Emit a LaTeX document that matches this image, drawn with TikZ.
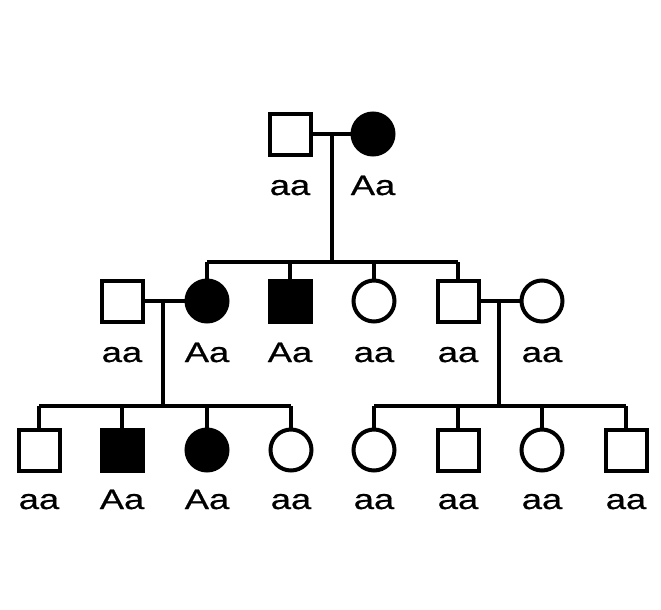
\documentclass[tikz,border=0pt]{standalone}
\usepackage{fontspec}
\setmainfont{Liberation Sans}
\newfontfamily\genofont[FakeStretch = 1.3, FakeBold = 0.6]{Liberation Sans}
\usetikzlibrary{positioning}
\tikzset{male/.style = {draw, rectangle, line width = 4, minimum size = 41, inner sep = 0},
  female/.style = {draw, circle, line width = 4, minimum size = 41, inner sep = 0},
  aff/.style = {fill},
  geno/.style = {font = \genofont\fontsize{28}{28}\selectfont, inner sep = 0, anchor = base},
  line/.style = {line width = 4}}

\begin{document}
\begin{tikzpicture}[x = 1pt, y = -1pt]
      \useasboundingbox (0, 0) rectangle (661, 610);

      % generation I
      \node[male] (I1) at (290, 134) {};
      \node[female, aff] (I2) at (373, 134) {};
      \coordinate (cI) at (332, 134);
      \coordinate (sI) at (332, 262);

      % generation II
      \node[male] (II0) at (122, 301) {};
      \node[female, aff] (II1) at (207, 301) {};
      \node[male, aff] (II2) at (290, 301) {};
      \node[female] (II3) at (374, 301) {};
      \node[male] (II4) at (458, 301) {};
      \node[female] (II5) at (542, 301) {};
      \coordinate (cII1) at (163, 301);
      \coordinate (sII1) at (163, 406);
      \coordinate (cII2) at (499, 301);
      \coordinate (sII2) at (499, 406);

      % generation III
      \node[male] (III1) at (39, 450) {};
      \node[male, aff] (III2) at (122, 450) {};
      \node[female, aff] (III3) at (207, 450) {};
      \node[female] (III4) at (291, 450) {};
      \node[female] (III5) at (374, 450) {};
      \node[male] (III6) at (458, 450) {};
      \node[female] (III7) at (542, 450) {};
      \node[male] (III8) at (626, 450) {};

      % genotypes
      \node[geno] (gI1) at (290, 195) {aa};
      \node[geno] (gI2) at (373, 195) {Aa};
      \node[geno] (gII0) at (122, 362) {aa};
      \node[geno] (gII1) at (207, 362) {Aa};
      \node[geno] (gII2) at (290, 362) {Aa};
      \node[geno] (gII3) at (374, 362) {aa};
      \node[geno] (gII4) at (458, 362) {aa};
      \node[geno] (gII5) at (542, 362) {aa};
      \node[geno] (gIII1) at (39, 509) {aa};
      \node[geno] (gIII2) at (122, 509) {Aa};
      \node[geno] (gIII3) at (207, 509) {Aa};
      \node[geno] (gIII4) at (291, 509) {aa};
      \node[geno] (gIII5) at (374, 509) {aa};
      \node[geno] (gIII6) at (458, 509) {aa};
      \node[geno] (gIII7) at (542, 509) {aa};
      \node[geno] (gIII8) at (626, 509) {aa};

      % lines
      \draw[line] (I1) -- (I2);
      \draw[line] (cI) -- (sI);
      \draw[line] (II1 |- sI) -- (II4 |- sI);
      \foreach \k in {II1, II2, II3, II4}
        \draw[line] (\k |- sI) -- (\k);

      \draw[line] (II0) -- (II1);
      \draw[line] (cII1) -- (sII1);
      \draw[line] (III1 |- sII1) -- (III4 |- sII1);
      \foreach \k in {III1, III2, III3, III4}
        \draw[line] (\k |- sII1) -- (\k);

      \draw[line] (II4) -- (II5);
      \draw[line] (cII2) -- (sII2);
      \draw[line] (III5 |- sII2) -- (III8 |- sII2);
      \foreach \k in {III5, III6, III7, III8}
        \draw[line] (\k |- sII2) -- (\k);
    \end{tikzpicture}
\end{document}
